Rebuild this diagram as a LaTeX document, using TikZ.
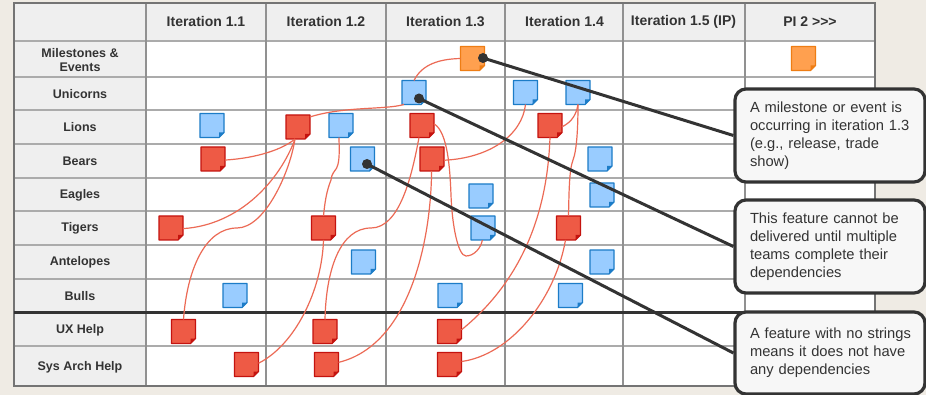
\documentclass[tikz,border=0pt]{standalone}
\usepackage{fontspec}
\setmainfont{Liberation Sans}
\definecolor{bgc}{HTML}{EFEBE4}
\definecolor{headc}{HTML}{EFEFEF}
\definecolor{gridc}{HTML}{ABABAB}
\definecolor{borderc}{HTML}{747474}
\definecolor{inkc}{HTML}{333333}
\definecolor{blueF}{HTML}{99CCFF}
\definecolor{blueE}{HTML}{1C7CC7}
\definecolor{redF}{HTML}{EE5A45}
\definecolor{redE}{HTML}{C4130F}
\definecolor{orangeF}{HTML}{FFA04F}
\definecolor{orangeE}{HTML}{EE7D14}
\definecolor{stringc}{HTML}{EC6A55}
\tikzset{
  gridline/.style={draw=gridc,line width=1.2pt},
  colline/.style={draw=gridc!85!black,line width=1.2pt},
  frameline/.style={draw=borderc,line width=1.5pt},
  headtext/.style={font=\fontsize{14}{16}\selectfont\bfseries,text=inkc,inner sep=0pt},
  rowtext/.style={font=\fontsize{12.5}{14.5}\selectfont\bfseries,text=inkc,inner sep=0pt,align=center},
  cardbox/.style={minimum size=24pt,inner sep=0pt,outer sep=0pt},
  strand/.style={draw=stringc,line width=1.2pt},
  callout/.style={draw=inkc,fill=white!97!black,line width=3.2pt,rounded corners=11pt,minimum width=190pt,
    inner ysep=0pt,inner xsep=15pt,text width=160pt,text=inkc,font=\fontsize{14.7}{18}\selectfont,align=left},
  pin/.style={circle,fill=inkc,minimum size=10pt,inner sep=0pt},
  leader/.style={draw=inkc,line width=3pt},
}
\newcommand{\card}[5]{%
  \node[cardbox] (#1) at (#2,#3) {};
  \filldraw[fill=#4,draw=#5,line width=1.3pt,line join=round]
    (#1.north west) -- (#1.north east) -- ([yshift=5pt]#1.south east) -- ([xshift=-5pt]#1.south east) -- (#1.south west) -- cycle;
  \fill[#5] ([yshift=5pt]#1.south east) -- ([xshift=-5pt]#1.south east) -- ([xshift=-5pt,yshift=5pt]#1.south east) -- cycle;
}
\newcommand{\bluecard}[3]{\card{#1}{#2}{#3}{blueF}{blueE}}
\newcommand{\redcard}[3]{\card{#1}{#2}{#3}{redF}{redE}}
\newcommand{\orangecard}[3]{\card{#1}{#2}{#3}{orangeF}{orangeE}}
\begin{document}
\begin{tikzpicture}[x=1pt,y=-1pt]
\fill[bgc] (0,0) rectangle (926,395);
\useasboundingbox (0,0) rectangle (926,395);
% table
\fill[white] (14,3) rectangle (875,386);
\fill[headc] (14,3) rectangle (875,41);
\fill[headc] (14,3) rectangle (146,386);
\foreach \yy in {41,77,110,144,178,211,245,279,346}
  \draw[gridline] (14,\yy) -- (875,\yy);
\foreach \xx in {146,266,386,505,623,745}
  \draw[colline] (\xx,3) -- (\xx,386);
\draw[frameline] (14,3) rectangle (875,386);
\draw[draw=inkc,line width=3pt] (14,312) -- (875,312);
% header
\node[headtext] (h1) at (206,22) {Iteration 1.1};
\node[headtext] (h2) at (326,22) {Iteration 1.2};
\node[headtext] (h3) at (445.5,22) {Iteration 1.3};
\node[headtext] (h4) at (564.5,22) {Iteration 1.4};
\node[headtext] (h5) at (683.5,22) {Iteration 1.5 (IP)};
\node[headtext] (h6) at (810,22) {PI 2 >{}>{}>};
% rows
\node[rowtext] (rMil) at (80,60) {Milestones \&\\Events};
\node[rowtext] (rUni) at (80,94) {Unicorns};
\node[rowtext] (rLio) at (80,127) {Lions};
\node[rowtext] (rBea) at (80,161) {Bears};
\node[rowtext] (rEag) at (80,195) {Eagles};
\node[rowtext] (rTig) at (80,228) {Tigers};
\node[rowtext] (rAnt) at (80,262) {Antelopes};
\node[rowtext] (rBul) at (80,296) {Bulls};
\node[rowtext] (rUX) at (80,330) {UX Help};
\node[rowtext] (rSys) at (80,367) {Sys Arch Help};
% cards
\orangecard{oA}{472.5}{58.5}
\orangecard{oB}{803.5}{58.5}
\bluecard{bUni}{414}{92.5}
\bluecard{bUniA}{525.5}{92.5}
\bluecard{bUniB}{578}{92.5}
\bluecard{bLioA}{212}{125.5}
\bluecard{bLioB}{341}{125.5}
\bluecard{bBeaA}{362.5}{159}
\bluecard{bBeaB}{600}{159}
\bluecard{bEagA}{481}{196}
\bluecard{bEagB}{602}{195}
\bluecard{bTig}{483}{228}
\bluecard{bAntA}{363.5}{262}
\bluecard{bAntB}{602}{262}
\bluecard{bBulA}{235}{295.5}
\bluecard{bBulB}{450}{295.5}
\bluecard{bBulC}{570.5}{295.5}
\redcard{rLioA}{298}{127}
\redcard{rLioB}{422}{125.5}
\redcard{rLioC}{550}{125.5}
\redcard{rBeaA}{213}{159}
\redcard{rBeaB}{432}{159}
\redcard{rTigA}{171}{228}
\redcard{rTigB}{323.5}{228}
\redcard{rTigC}{568.5}{228}
\redcard{rUXA}{183.5}{331.5}
\redcard{rUXB}{325}{331.5}
\redcard{rUXC}{449.5}{331.5}
\redcard{rSysA}{246.5}{364.5}
\redcard{rSysB}{326.5}{364.5}
\redcard{rSysC}{449.5}{364.5}
% strings
\draw[strand] (oA.west) .. controls (440,59) and (422,64) .. (bUni.north);
\draw[strand] (bUni.-130) .. controls (385,110) and (345,106) .. (rLioA.40);
\draw[strand] (rLioA.-104) .. controls (283,149) and (258,158) .. (rBeaA.-5);
\draw[strand] (rLioA.-104) .. controls (280,180) and (240,225) .. (rTigA.-3);
\draw[strand] (rLioA.-104) .. controls (290,172) and (265,228) .. (237,228) .. controls (205,228) and (187,270) .. (rUXA.north);
\draw[strand] (bLioB.-100) .. controls (341,178) and (333,165) .. (331,180) .. controls (327,190) and (325,200) .. (rTigB.north);
\draw[strand] (rTigB.south) .. controls (322,290) and (295,345) .. (rSysA.6);
\draw[strand] (rLioB.-104) .. controls (412,175) and (400,228) .. (371,228) .. controls (340,228) and (326,270) .. (rUXB.north);
\draw[strand] (rBeaB.-92) .. controls (431,240) and (410,345) .. (rSysB.10);
\draw[strand] (rLioB.8) .. controls (448,132) and (450,170) .. (451,195) .. controls (452,225) and (458,256) .. (466,256) .. controls (474,256) and (481,248) .. (bTig.-93);
\draw[strand] (rBeaB.-6) .. controls (490,158) and (522,135) .. (bUniA.-90);
\draw[strand] (rLioC.-6) .. controls (568,124) and (576,118) .. (bUniB.-90);
\draw[strand] (bUniB.-90) .. controls (578,125) and (577,150) .. (573,160) .. controls (569,170) and (569,195) .. (rTigC.north);
\draw[strand] (rLioC.south) .. controls (548,190) and (535,270) .. (rUXC.8);
\draw[strand] (rTigC.-104) .. controls (555,300) and (510,355) .. (rSysC.14);
% callouts
\node[callout,minimum height=93pt] (boxA) at (830,135.5) {A milestone or event is\\occurring in iteration 1.3\\(e.g., release, trade\\show)};
\node[callout,minimum height=93pt] (boxB) at (830,246.5) {This feature cannot be\\delivered until multiple\\teams complete their\\dependencies};
\node[callout,minimum height=82pt] (boxC) at (830,353) {\mbox{A feature with no strings}\\means it does not have\\any dependencies};
% leaders
\node[pin] (pA) at (483,58) {};
\node[pin] (pB) at (419,98.5) {};
\node[pin] (pC) at (367,164) {};
\draw[leader] (pA.center) -- (boxA.west);
\draw[leader] (pB.center) -- (boxB.west);
\draw[leader] (pC.center) -- (boxC.west);
\end{tikzpicture}
\end{document}
